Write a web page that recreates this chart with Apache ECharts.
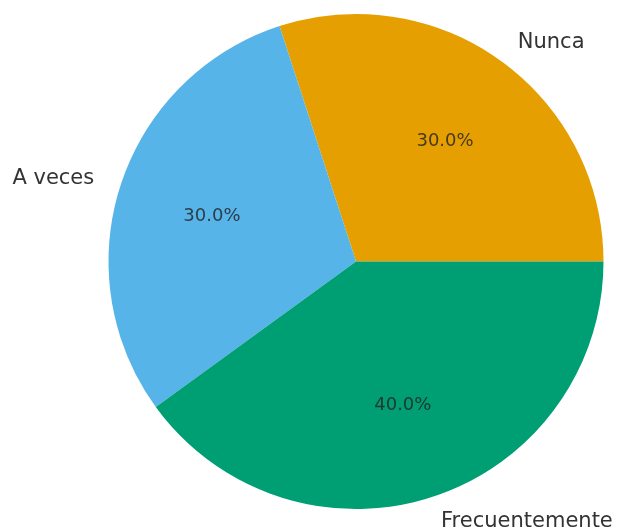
<!DOCTYPE html>
<html>
<head>
<meta charset="utf-8">
<script src="https://cdn.jsdelivr.net/npm/echarts@6/dist/echarts.min.js"></script>
<style>
  html, body { margin: 0; padding: 0; background: #ffffff; }
  #chart { width: 626px; height: 529px; }
</style>
</head>
<body>
<div id="chart"></div>
<script>
// Frequency of responses
const categories = ['Nunca', 'A veces', 'Frecuentemente'];
const values = [30, 30, 40];
const colors = ['#E69F00', '#56B4E9', '#009E73'];

const CENTER = [356, 261.5];
const R = 247.5;

const chart = echarts.init(document.getElementById('chart'), null, { renderer: 'canvas' });

const sliceData = categories.map((name, i) => ({
  name: name,
  value: values[i],
  itemStyle: { color: colors[i] }
}));
const total = values.reduce((a, b) => a + b, 0);

// nudge labels slightly toward the horizontal midline so the text
// sits visually centred on its anchor
function settle(rect) {
  const ly = rect.y + rect.height / 2;
  return 1 - (ly - CENTER[1]) * 0.012;
}

chart.setOption({
  backgroundColor: '#ffffff',
  animation: false,
  series: [
    {
      // the pie itself, counter-clockwise from 3 o'clock
      type: 'pie',
      center: CENTER,
      radius: [0, R],
      startAngle: 0,
      clockwise: false,
      silent: true,
      label: { show: false },
      labelLine: { show: false },
      itemStyle: { borderWidth: 0 },
      data: sliceData
    },
    {
      // percentage labels at 0.6 of the radius
      type: 'pie',
      center: CENTER,
      radius: [R * 0.2, R],
      startAngle: 0,
      clockwise: false,
      silent: true,
      itemStyle: { color: 'rgba(0,0,0,0)' },
      label: {
        show: true,
        position: 'inside',
        fontFamily: 'DejaVu Sans',
        fontSize: 18,
        color: 'rgba(35,35,35,0.82)',
        formatter: (p) => (p.value / total * 100).toFixed(1) + '%'
      },
      labelLine: { show: false },
      labelLayout: (params) => ({ dy: settle(params.labelRect) }),
      data: categories.map((name, i) => ({ name: name, value: values[i] }))
    },
    {
      // category names just outside the rim
      type: 'pie',
      center: CENTER,
      radius: [R, R * 1.2],
      startAngle: 0,
      clockwise: false,
      silent: true,
      itemStyle: { color: 'rgba(0,0,0,0)' },
      label: {
        show: true,
        position: 'inside',
        fontFamily: 'DejaVu Sans',
        fontSize: 21,
        color: '#333333',
        formatter: '{b}'
      },
      labelLine: { show: false },
      labelLayout: (params) => {
        const r = params.labelRect;
        const cx = r.x + r.width / 2;
        return { align: cx >= CENTER[0] ? 'left' : 'right', dy: settle(r) };
      },
      data: categories.map((name, i) => ({ name: name, value: values[i] }))
    }
  ]
});
</script>
</body>
</html>
